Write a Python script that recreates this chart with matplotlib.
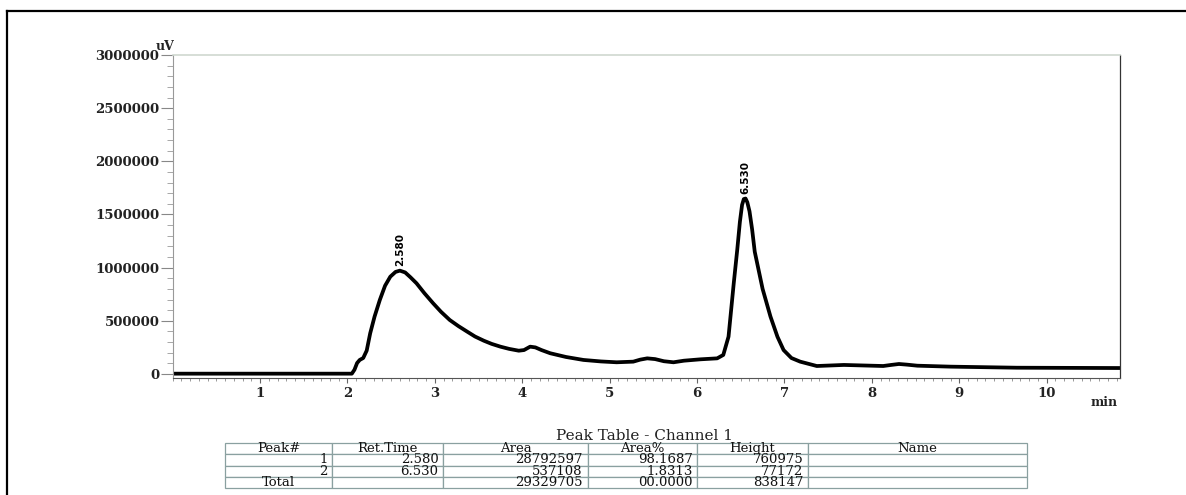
import matplotlib
matplotlib.use("Agg")
import matplotlib.pyplot as plt
from matplotlib.lines import Line2D
from matplotlib.ticker import MultipleLocator

plt.rcParams['font.family'] = ['DejaVu Serif']

# chromatogram trace (min, uV)
time_min = [0.00, 0.50, 1.00, 1.50, 2.00, 2.05, 2.08, 2.11, 2.14, 2.18, 2.22, 2.26,
            2.31, 2.37, 2.43, 2.49, 2.55, 2.60, 2.66, 2.72, 2.79, 2.88, 2.98, 3.07,
            3.17, 3.27, 3.37, 3.46, 3.56, 3.65, 3.75, 3.85, 3.96, 4.02, 4.09, 4.15,
            4.22, 4.32, 4.50, 4.70, 4.90, 5.08, 5.27, 5.35, 5.43, 5.52, 5.62, 5.73,
            5.85, 6.04, 6.23, 6.30, 6.36, 6.42, 6.46, 6.49, 6.515, 6.535, 6.555, 6.575,
            6.60, 6.63, 6.66, 6.75, 6.84, 6.92, 6.99, 7.08, 7.18, 7.37, 7.68, 8.13,
            8.22, 8.31, 8.40, 8.52, 8.90, 9.66, 10.84]
signal_uv = [3000, 3000, 3000, 3000, 3000, 3000, 40000, 103000, 132000, 150000, 220000, 383000,
             540000, 696000, 830000, 915000, 960000, 972000, 955000, 910000, 853000, 760000, 665000, 585000,
             508000, 450000, 398000, 352000, 313000, 283000, 257000, 236000, 219000, 225000, 257000, 250000,
             225000, 195000, 160000, 132000, 118000, 110000, 116000, 135000, 147000, 140000, 120000, 110000,
             125000, 138000, 147000, 179000, 351000, 855000, 1170000, 1430000, 1590000, 1645000, 1650000, 1615000,
             1530000, 1360000, 1150000, 800000, 540000, 350000, 225000, 150000, 116000, 75000, 85000, 75000,
             85000, 94000, 88000, 78000, 69000, 59000, 56000]

peak_times = [2.580, 6.530]
peak_labels = ["2.580", "6.530"]

table_cols = ["Peak#", "Ret.Time", "Area", "Area%", "Height", "Name"]
table_rows = [["1", "2.580", "28792597", "98.1687", "760975", ""],
              ["2", "6.530", "537108", "1.8313", "77172", ""],
              ["Total", "", "29329705", "00.0000", "838147", ""]]
col_widths = [107, 111, 145, 109, 111, 219]

fig = plt.figure(figsize=(11.86, 4.95), dpi=100)
ax = fig.add_axes([0.1456, 0.2364, 0.7988, 0.6525])

ax.plot(time_min, signal_uv, color='black', lw=2.7, solid_joinstyle='round')

# peak retention time labels, placed at the apex near each retention time
for t, lab in zip(peak_times, peak_labels):
    near = [i for i, tm in enumerate(time_min) if abs(tm - t) <= 0.1]
    i = max(near, key=lambda k: signal_uv[k])
    ax.annotate(lab, (time_min[i], signal_uv[i]), xytext=(0, 3), textcoords='offset points',
                rotation=90, ha='center', va='bottom', fontsize=7.5, fontweight='bold',
                family=['DejaVu Sans'])

ax.set_xlim(0, 10.84)
ax.set_ylim(-37600, 3000000)

ax.yaxis.set_minor_locator(MultipleLocator(100000))
ax.xaxis.set_minor_locator(MultipleLocator(0.1))
ax.set_xticks(range(1, 11))
ax.set_yticks([0, 500000, 1000000, 1500000, 2000000, 2500000, 3000000])
ax.set_yticklabels(['0', '500000', '1000000', '1500000', '2000000', '2500000', '3000000'])

ax.tick_params(axis='y', which='major', length=8.6, width=0.8, color='#888888', pad=1,
               labelsize=9.5, labelcolor='#222222')
ax.tick_params(axis='y', which='minor', length=4, width=0.6, color='#999999')
ax.tick_params(axis='x', which='major', length=3.5, width=0.8, color='#666666', pad=3,
               labelsize=9.5, labelcolor='#222222')
ax.tick_params(axis='x', which='minor', length=2, width=0.6, color='#888888')
for lab in ax.get_xticklabels() + ax.get_yticklabels():
    lab.set_fontweight('bold')

ax.spines['top'].set_color('#cfd8d0')
ax.spines['top'].set_linewidth(1.2)
ax.spines['left'].set_color('#999999')
ax.spines['bottom'].set_color('#555555')
ax.spines['right'].set_color('#333333')
ax.spines['right'].set_linewidth(0.9)

fig.text(165 / 1186, 1 - 47 / 495, 'uV', ha='center', va='center', fontsize=9,
         fontweight='bold', color='#222222')
fig.text(1118 / 1186, 1 - 402 / 495, 'min', ha='right', va='center', fontsize=9,
         fontweight='bold', color='#222222')

# scanned page frame
fig.add_artist(Line2D([7 / 1186, 1], [1 - 11 / 495, 1 - 11 / 495], color='black', lw=1.6,
                      transform=fig.transFigure))
fig.add_artist(Line2D([7 / 1186, 7 / 1186], [0, 1 - 11 / 495], color='black', lw=1.6,
                      transform=fig.transFigure))

# peak table
fig.text(644 / 1186, 1 - 436 / 495, 'Peak Table - Channel 1', ha='center', va='center',
         fontsize=11, color='#222222')
tax = fig.add_axes([225 / 1186, 1 - 488 / 495, 802 / 1186, 45 / 495])
tax.axis('off')
tbl = tax.table(cellText=table_rows, colLabels=table_cols, bbox=[0, 0, 1, 1],
                colWidths=[w / sum(col_widths) for w in col_widths])
tbl.auto_set_font_size(False)
tbl.set_fontsize(9.5)
for (r, c), cell in tbl.get_celld().items():
    cell.set_edgecolor('#8aa0a0')
    cell.set_linewidth(0.9)
    cell.PAD = 0.04
    txt = cell.get_text()
    txt.set_color('#111111')
    if r == 0 or (r == 3 and c == 0):
        cell._loc = 'center'
        txt.set_ha('center')
    else:
        cell._loc = 'right'
        txt.set_ha('right')

fig.savefig('out.png', dpi=100)
